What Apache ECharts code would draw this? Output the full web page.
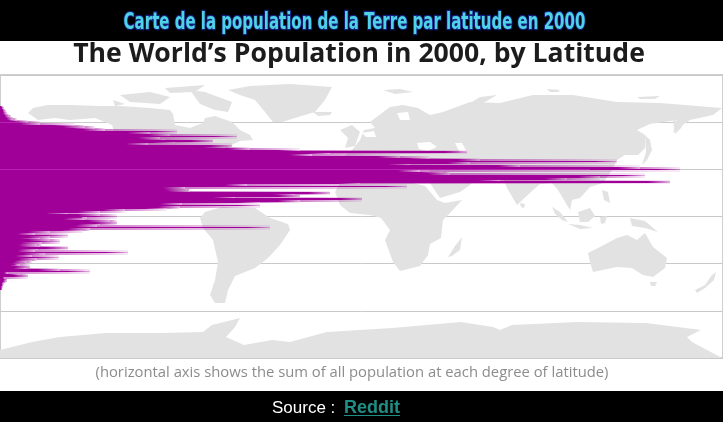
<!DOCTYPE html>
<html><head><meta charset="utf-8">
<style>html,body{margin:0;padding:0;background:#fff}#c{width:723px;height:422px}</style>
<script src="https://cdn.jsdelivr.net/npm/echarts@6/dist/echarts.min.js"></script>
</head><body><div id="c"></div>
<script>
var latitudes = [70,69,68,67,66,65,64,63,62,61,60,59,58,57,56,55,54,53,52,51,50,49,48,47,46,45,44,43,42,41,40,39,38,37,36,35,34,33,32,31,30,29,28,27,26,25,24,23,22,21,20,19,18,17,16,15,14,13,12,11,10,9,8,7,6,5,4,3,2,1,0,-1,-2,-3,-4,-5,-6,-7,-8,-9,-10,-11,-12,-13,-14,-15,-16,-17,-18,-19,-20,-21,-22,-23,-24,-25,-26,-27,-28,-29,-30,-31,-32,-33,-34,-35,-36,-37,-38,-39,-40,-41,-42,-43,-44,-45,-46];
var population = [2,3,4,5,6,7,9,11,13,17,28,40,75,85,95,105,177,150,170,237,160,165,213,175,148,232,225,250,300,467,330,312,400,430,480,617,470,410,520,640,680,420,443,450,645,600,567,500,670,360,247,407,185,187,190,330,295,300,235,362,300,260,182,260,180,167,125,100,68,100,117,87,85,110,117,100,97,270,90,83,50,35,68,50,40,50,60,42,37,40,68,38,35,128,45,32,59,37,32,27,22,20,30,26,60,90,8,20,28,5,7,6,4,3,3,2,2];
var gridLatitudes = [60,30,0,-30];

var landAreas = [
 [[28,113],[33,108],[48,105],[70,105],[100,106],[120,106],[150,108],[170,110],[173,114],[175,125],[190,128],[203,123],[205,118],[215,116],[232,122],[240,130],[250,135],[253,140],[240,141],[230,146],[222,150],[212,156],[209,163],[212,170],[207,170],[203,160],[192,164],[180,166],[170,170],[168,178],[175,185],[187,190],[195,197],[205,200],[190,203],[175,197],[160,190],[148,178],[138,168],[125,150],[115,135],[112,125],[95,118],[70,120],[55,118],[38,120]],
 [[190,90],[205,92],[232,102],[228,112],[215,110],[200,104]],
 [[120,95],[150,92],[170,97],[160,104],[130,102]],
 [[165,88],[205,85],[195,92],[170,93]],
 [[113,100],[125,104],[115,106]],
 [[228,90],[250,86],[290,84],[332,87],[325,100],[315,112],[295,118],[282,122],[273,122],[265,112],[255,100],[240,95]],
 [[313,112],[332,112],[330,115],[318,116]],
 [[205,212],[222,207],[255,208],[270,218],[288,224],[290,230],[280,245],[268,258],[255,268],[235,276],[228,290],[225,303],[215,303],[210,295],[215,280],[218,262],[213,240],[203,228],[200,218]],
 [[335,192],[340,183],[352,177],[372,175],[390,178],[405,181],[425,186],[437,200],[445,203],[462,200],[450,213],[443,220],[441,238],[430,244],[428,255],[420,266],[400,271],[393,262],[385,240],[390,230],[381,218],[370,215],[350,213],[340,205]],
 [[448,257],[455,246],[462,237],[460,250],[452,256]],
 [[345,168],[343,157],[352,150],[360,140],[364,130],[375,128],[370,122],[390,107],[403,105],[418,108],[430,115],[443,112],[470,102],[500,103],[533,95],[573,95],[617,102],[660,103],[722,108],[713,115],[690,120],[680,127],[673,133],[677,120],[650,124],[637,130],[645,135],[645,148],[638,155],[625,155],[617,160],[612,170],[603,183],[590,187],[580,198],[572,200],[570,210],[564,200],[558,190],[552,183],[540,184],[533,190],[517,205],[507,188],[503,178],[490,176],[478,175],[470,185],[460,192],[440,198],[428,180],[430,170],[418,168],[400,168],[385,170],[370,165],[355,168]],
 [[340,130],[352,125],[360,132],[355,146],[345,148],[348,138]],
 [[383,90],[400,89],[413,92],[395,94]],
 [[467,105],[480,97],[497,95],[485,102],[475,107]],
 [[547,89],[560,90],[558,92],[550,92]],
 [[637,97],[660,96],[655,99],[640,99]],
 [[673,120],[684,122],[681,128],[675,134]],
 [[645,135],[650,140],[652,150],[647,160],[642,165],[646,152]],
 [[552,207],[560,212],[568,222],[562,220],[555,214]],
 [[578,212],[590,208],[595,216],[588,222],[580,222]],
 [[568,224],[580,225],[593,228],[580,229]],
 [[600,217],[607,216],[605,223],[601,224]],
 [[630,218],[645,221],[658,232],[645,228],[632,226]],
 [[602,190],[608,192],[610,203],[604,200]],
 [[520,203],[525,204],[524,208],[521,207]],
 [[588,253],[600,247],[617,238],[627,235],[637,240],[645,233],[653,247],[667,258],[665,268],[653,277],[643,275],[632,268],[617,267],[593,272],[590,262]],
 [[650,282],[657,282],[655,286],[651,286]],
 [[695,290],[705,285],[712,275],[716,272],[714,280],[705,288],[697,293]],
 [[0,350],[32,342],[60,337],[106,333],[161,333],[203,332],[212,325],[240,318],[235,327],[226,337],[244,345],[272,340],[290,342],[327,332],[392,328],[461,322],[493,327],[500,330],[512,325],[577,322],[646,323],[701,330],[687,337],[692,342],[722,358],[0,358]]
];
var waterAreas = [
 [[417,143],[430,142],[437,147],[428,151],[419,149]],
 [[455,143],[462,143],[467,152],[460,153]],
 [[397,113],[408,112],[410,120],[400,120]],
 [[362,133],[374,131],[376,137],[366,137]]
];

var PURPLE = [160,0,152];
function rgba(a){ return 'rgba('+PURPLE.join(',')+','+a+')'; }
var G = echarts.graphic;

function renderBar(params, api){
  var i = params.dataIndex, v = api.value(0), lat = api.value(1);
  var top = Math.round(api.coord([0, lat + 0.5])[1]);
  var bot = Math.round(api.coord([0, lat - 0.5])[1]);
  var x0 = api.coord([0, lat])[0], x1 = api.coord([v, lat])[0];
  var neigh = Math.max(population[i-1] || 0, population[i+1] || 0);
  var kids = [];
  if (neigh > v) {
    var hx = api.coord([neigh, lat])[0];
    kids.push({type:'rect', shape:{x:x1, y:top, width:hx-x1, height:bot-top},
      style:{blend:'multiply', fill:new G.LinearGradient(0,0,1,0,[{offset:0,color:rgba(0.5)},{offset:0.6,color:rgba(0.26)},{offset:1,color:rgba(0.08)}])}});
  }
  var w = x1 - x0, f = Math.min(0.5, 22 / Math.max(w, 1));
  kids.push({type:'rect', shape:{x:x0, y:top, width:w, height:bot-top},
    style:{blend:'multiply', fill:new G.LinearGradient(0,0,1,0,[{offset:0,color:rgba(1)},{offset:1-f,color:rgba(1)},{offset:1,color:rgba(0.3)}])}});
  if (gridLatitudes.indexOf(lat) >= 0 && w > 4) {
    var gy = Math.round(api.coord([0, lat])[1]) + 0.5;
    kids.push({type:'line', shape:{x1:x0, y1:gy, x2:x1 - Math.min(w*0.3, 90), y2:gy}, style:{stroke:'#b524b2', lineWidth:1}});
  }
  return {type:'group', children:kids};
}
function polygonRenderer(list, fill, blend){
  return function(params, api){
    var pts = list[params.dataIndex].map(function(p){ return api.coord([p[0], p[1]]); });
    return {type:'polygon', shape:{points:pts}, style:{fill:fill, blend:blend}};
  };
}
var idx = function(list){ return list.map(function(_, i){ return [i, 100]; }); };

var chart = echarts.init(document.getElementById('c'), null, {renderer:'canvas'});
chart.setOption({
  animation:false,
  backgroundColor:'#ffffff',
  title:[
   {text:'The World’s Population in 2000, by Latitude', left:354, top:36, textAlign:'center', z:20,
    textStyle:{fontFamily:'Open Sans', fontWeight:'bold', fontSize:26.6, color:'#1c1c1c'}},
   {text:'(horizontal axis shows the sum of all population at each degree of latitude)', left:347, top:360, textAlign:'center', z:20,
    textStyle:{fontFamily:'Open Sans', fontWeight:'normal', fontSize:14.8, color:'#8c8c8c'}},
   {text:'{a|Source : }{b|Reddit}', left:267, top:394, z:20,
    textStyle:{fontWeight:'normal', rich:{a:{fontFamily:'Liberation Sans', fontSize:17, fontWeight:'normal', color:'#ffffff'},
                     b:{fontFamily:'Liberation Sans', fontSize:18, fontWeight:'bold', color:'#1f8f85', padding:[0,0,0,4]}}}}
  ],
  graphic:[
   {type:'rect', z:0, shape:{x:0,y:0,width:723,height:41}, style:{fill:'#000'}},
   {type:'rect', z:0, shape:{x:0,y:391,width:723,height:31}, style:{fill:'#000'}},
   {type:'rect', z:30, shape:{x:344,y:415,width:56,height:1}, style:{fill:'#1f8f85'}},
   {type:'text', z:40, x:354.5, y:23.5, scaleX:0.855, scaleY:1.16,
    style:{text:'Carte de la population de la Terre par latitude en 2000', align:'center', verticalAlign:'middle',
      font:'bold 19.5px "DejaVu Sans Condensed", "DejaVu Sans"', fill:'#4fd2e6', stroke:'#12207f', lineWidth:2,
      shadowColor:'#f2ee30', shadowOffsetX:2, shadowOffsetY:2, shadowBlur:0}}
  ],
  grid:{left:0, right:0, top:75, height:283, show:true, borderColor:'#cfcfcf', borderWidth:2, backgroundColor:'transparent'},
  xAxis:{type:'value', min:0, max:723, show:false},
  yAxis:[
   {type:'value', min:-90, max:90, interval:30, axisLabel:{show:false}, axisTick:{show:false}, axisLine:{show:false},
    splitLine:{show:true, lineStyle:{color:'#c9c9c9', width:1}}},
   {type:'value', min:75, max:358, inverse:true, show:false, splitLine:{show:false}}
  ],
  series:[
   {type:'custom', name:'land', yAxisIndex:1, coordinateSystem:'cartesian2d', clip:false, z:2, silent:true,
    data:idx(landAreas), encode:{x:0,y:1}, renderItem:polygonRenderer(landAreas,'#e2e2e2','multiply')},
   {type:'custom', name:'water', yAxisIndex:1, coordinateSystem:'cartesian2d', clip:false, z:3, silent:true,
    data:idx(waterAreas), encode:{x:0,y:1}, renderItem:polygonRenderer(waterAreas,'#ffffff')},
   {type:'custom', name:'population', yAxisIndex:0, coordinateSystem:'cartesian2d', clip:false, z:4, silent:true,
    data:latitudes.map(function(l,i){ return [population[i], l]; }), encode:{x:0,y:1}, renderItem:renderBar}
  ]
});
</script></body></html>
